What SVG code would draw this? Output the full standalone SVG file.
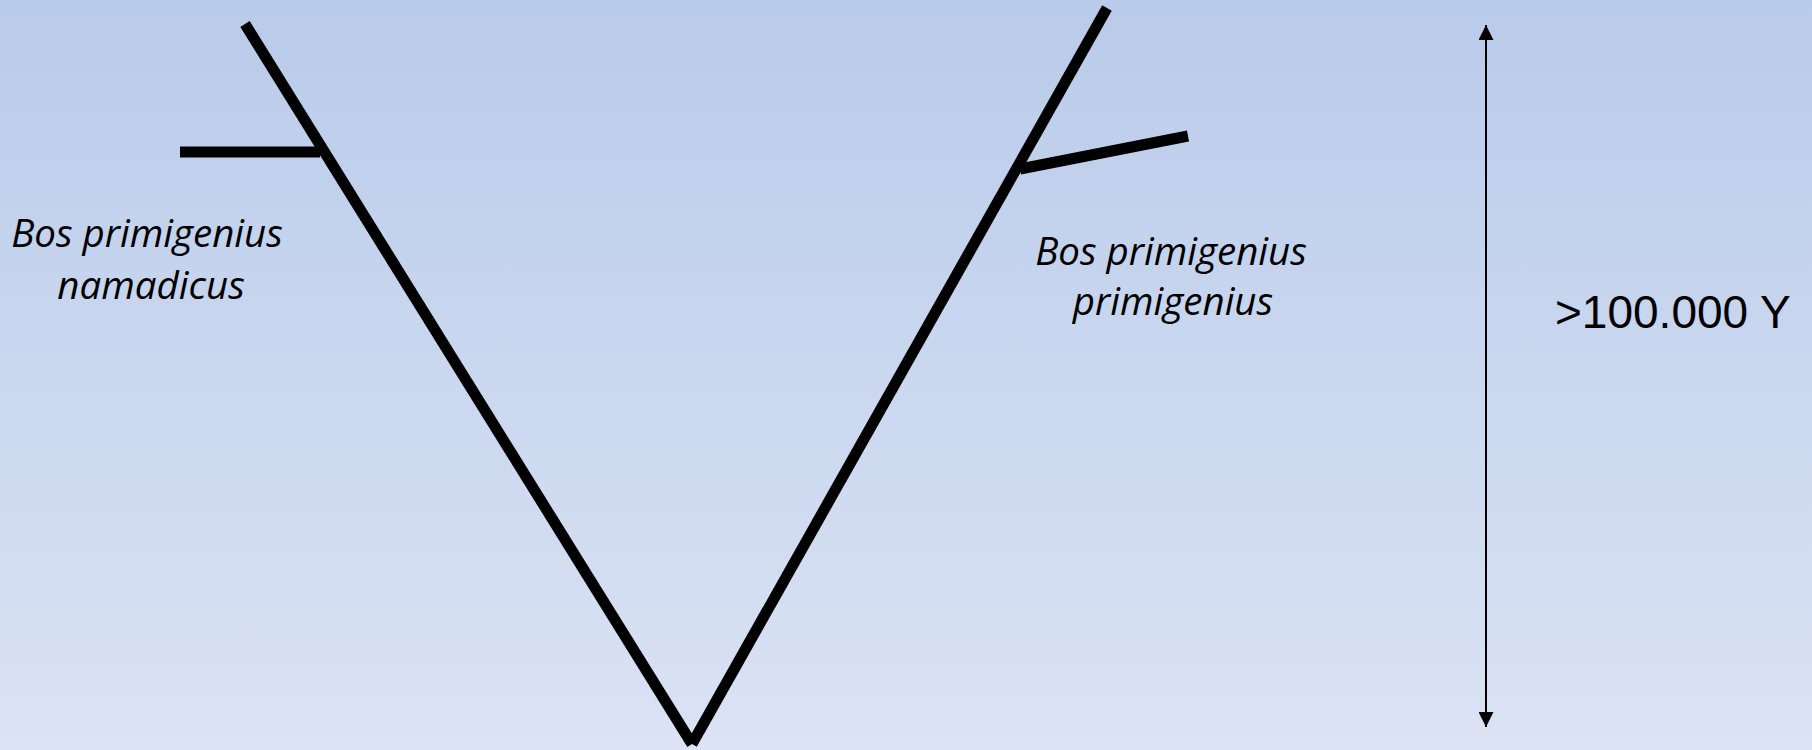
<svg xmlns="http://www.w3.org/2000/svg" width="1812" height="750" viewBox="0 0 1812 750">
<defs>
<linearGradient id="bg" x1="0" y1="0" x2="0" y2="1">
<stop offset="0" stop-color="#b9cbea"/>
<stop offset="1" stop-color="#dbe3f4"/>
</linearGradient>
<marker id="ah" viewBox="0 0 10 10" refX="10" refY="5" markerWidth="7.5" markerHeight="7.5" orient="auto-start-reverse" markerUnits="strokeWidth">
<path d="M0,0 L10,5 L0,10 Z" fill="#000"/>
</marker>
<style>
.tree{stroke:#000;stroke-width:11;fill:none}
.lbl{font-family:"Open Sans","Liberation Sans",sans-serif;font-style:italic;font-size:38.5px;fill:#000;text-anchor:middle}
.time{font-family:"Liberation Sans","Open Sans",sans-serif;font-size:46px;fill:#000}
</style>
</defs>
<rect width="1812" height="750" fill="url(#bg)"/>
<g id="connectors">
<line class="tree" x1="245" y1="24" x2="692" y2="744"/>
<line class="tree" x1="1107" y1="8" x2="692" y2="744"/>
<line class="tree" x1="180" y1="152" x2="320" y2="152"/>
<line class="tree" x1="1020" y1="169" x2="1188" y2="136"/>
<line x1="1486" y1="727" x2="1486" y2="25" stroke="#000" stroke-width="2" marker-end="url(#ah)" marker-start="url(#ah)"/>
</g>
<g id="node-namadicus">
<text class="lbl" x="147" y="247">Bos primigenius</text>
<text class="lbl" x="151" y="299">namadicus</text>
</g>
<g id="node-primigenius">
<text class="lbl" x="1171" y="265">Bos primigenius</text>
<text class="lbl" x="1173" y="315">primigenius</text>
</g>
<g id="node-time">
<text class="time" x="1555" y="328">&gt;100.000 Y</text>
</g>
</svg>
